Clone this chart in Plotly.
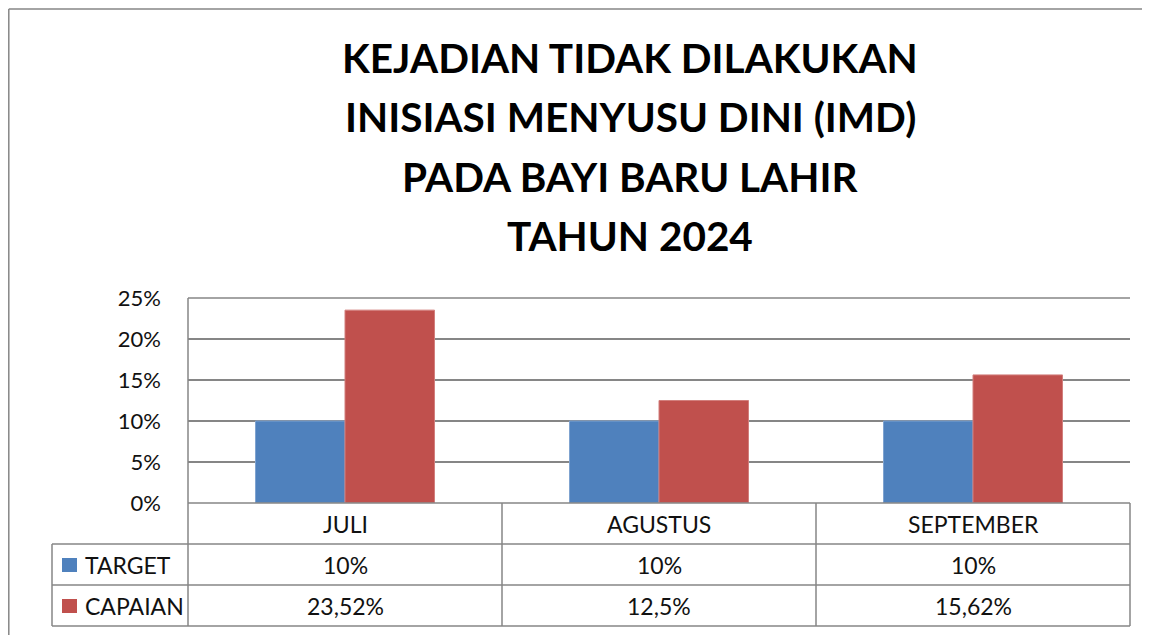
import plotly.graph_objects as go

W, H = 1150, 635
OFF = 8  # page body margin in the screenshot

title_lines = ["KEJADIAN TIDAK DILAKUKAN", "INISIASI MENYUSU DINI (IMD)", "PADA BAYI BARU LAHIR", "TAHUN 2024"]
categories = ["JULI", "AGUSTUS", "SEPTEMBER"]
series_names = ["TARGET", "CAPAIAN"]
target = [0.10, 0.10, 0.10]
capaian = [0.2352, 0.125, 0.1562]
table_labels_target = ["10%", "10%", "10%"]
table_labels_capaian = ["23,52%", "12,5%", "15,62%"]
colors = ["#4F81BD", "#C0504D"]
edge_colors = ["#7FA3D0", "#D27F7D"]
y_ticks = [0, 0.05, 0.10, 0.15, 0.20, 0.25]

FONT = "Lato"
GRID = "#868686"

def px(x):
    return (x - OFF) / W

def py(y):
    return 1 - (y - OFF) / H

fig = go.Figure()
for name, vals, col, ec in zip(series_names, [target, capaian], colors, edge_colors):
    fig.add_bar(x=list(range(len(categories))), y=vals, name=name,
                marker=dict(color=col, line=dict(width=1, color=ec)))

x0_px, x1_px = 188, 1130
ytop_px, ybot_px = 298, 503
fig.update_layout(
    width=W, height=H,
    margin=dict(l=0, r=0, t=0, b=0, pad=0),
    paper_bgcolor="white", plot_bgcolor="white",
    showlegend=False,
    barmode="group", bargap=0.43, bargroupgap=0,
    xaxis=dict(domain=[px(x0_px), px(x1_px)], range=[-0.5, len(categories) - 0.5],
               showticklabels=False, showgrid=False, zeroline=False, showline=False,
               fixedrange=True, automargin=False),
    yaxis=dict(domain=[py(ybot_px), py(ytop_px)], range=[0, 0.25], tickvals=y_ticks,
               tickformat=".0%", showgrid=True, gridcolor=GRID, gridwidth=1.5,
               zeroline=False, showline=False, ticks="", ticklabelstandoff=26,
               tickfont=dict(family=FONT, size=22, color="#111111"),
               fixedrange=True, automargin=False),
)

shapes = []
def line(xa, ya, xb, yb):
    shapes.append(dict(type="line", xref="paper", yref="paper",
                       x0=px(xa), y0=py(ya), x1=px(xb), y1=py(yb),
                       line=dict(color=GRID, width=1.5), layer="above"))

# outer chart border
line(8.8, 9, 1160, 9)
line(8.8, 9, 8.8, 645)
# top gridline (explicit)
line(x0_px, ytop_px, x1_px, ytop_px)
# axis line
line(x0_px, ytop_px, x0_px, 626)
# table
row_y = [503, 544, 585, 626]
line(x0_px, 503, x1_px, 503)
for yy in row_y[1:]:
    line(52, yy, x1_px, yy)
line(52, 544, 52, 626)
col_w = (x1_px - x0_px) / len(categories)
for i in range(1, len(categories) + 1):
    xx = x0_px + i * col_w
    line(xx, 503, xx, 626)

annotations = []
title_y = [58, 117, 177, 235]
for t, yy in zip(title_lines, title_y):
    annotations.append(dict(text="<b>" + t + "</b>", x=px(630), y=py(yy), xref="paper", yref="paper",
                            showarrow=False, xanchor="center", yanchor="middle",
                            font=dict(family=FONT, size=40.5, color="#000000")))

def cell(text, i, yc):
    annotations.append(dict(text=text, x=i, y=py(yc), xref="x", yref="paper",
                            showarrow=False, xanchor="center", yanchor="middle",
                            font=dict(family=FONT, size=23, color="#111111")))

for i, c in enumerate(categories):
    cell(c, i, 524)
    cell(table_labels_target[i], i, 565)
    cell(table_labels_capaian[i], i, 606)

for name, col, yc in zip(series_names, colors, [565, 606]):
    shapes.append(dict(type="rect", xref="paper", yref="paper",
                       x0=px(62), x1=px(77), y0=py(yc - 7), y1=py(yc + 7),
                       fillcolor=col, line=dict(width=0)))
    annotations.append(dict(text=name, x=px(83), y=py(yc), xref="paper", yref="paper",
                            showarrow=False, xanchor="left", yanchor="middle",
                            font=dict(family=FONT, size=23, color="#111111")))

fig.update_layout(shapes=shapes, annotations=annotations)
fig.write_html("out.html")
